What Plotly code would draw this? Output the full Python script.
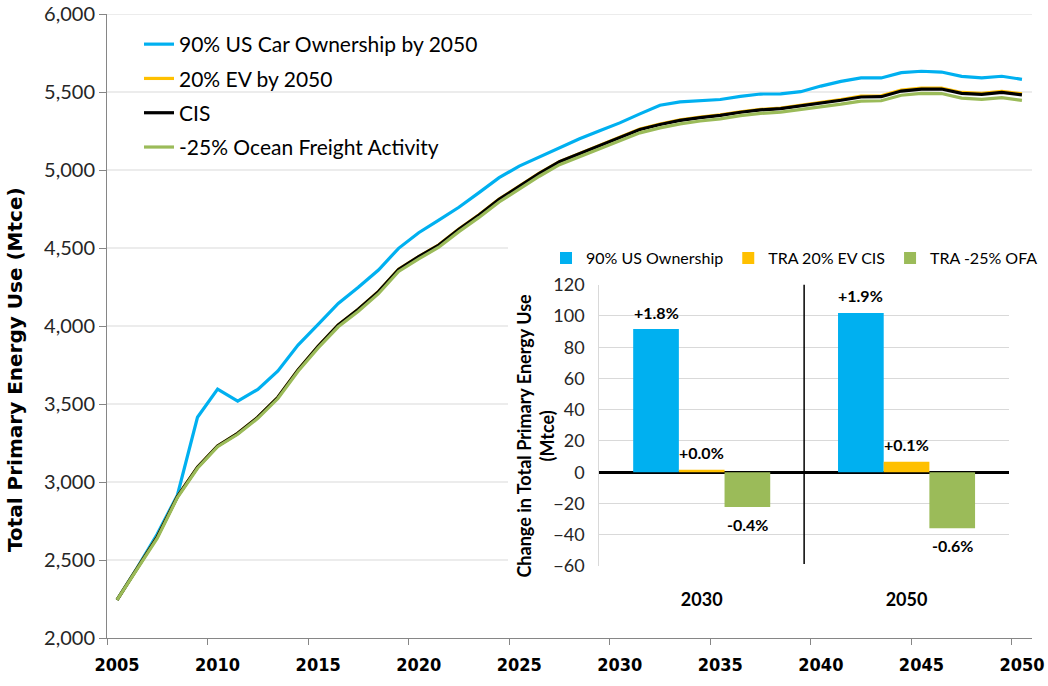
import plotly.graph_objects as go

# ---------------- data ----------------
years = list(range(2005, 2051))

car_ownership_90 = [2244, 2450, 2667, 2915, 3415, 3596, 3519, 3594, 3712, 3878,
                    4010, 4145, 4248, 4359, 4498, 4598, 4679, 4761, 4855, 4951,
                    5025, 5085, 5145, 5200, 5252, 5302, 5360, 5415, 5437, 5444,
                    5452, 5472, 5487, 5488, 5502, 5538, 5568, 5590, 5590, 5624,
                    5633, 5628, 5600, 5590, 5601, 5581]

ev_20 = [2244, 2447, 2649, 2906, 3094, 3231, 3312, 3415, 3543, 3718,
         3870, 4006, 4107, 4221, 4364, 4445, 4520, 4621, 4713, 4813,
         4896, 4980, 5054, 5106, 5161, 5212, 5262, 5295, 5321, 5339,
         5353, 5373, 5389, 5397, 5414, 5430, 5452, 5473, 5476, 5512,
         5525, 5525, 5497, 5491, 5504, 5488]

cis = [2244, 2447, 2649, 2906, 3094, 3231, 3312, 3415, 3543, 3718,
       3870, 4006, 4107, 4220, 4363, 4444, 4519, 4620, 4712, 4812,
       4895, 4979, 5053, 5105, 5160, 5210, 5260, 5292, 5318, 5336,
       5350, 5370, 5385, 5393, 5410, 5425, 5447, 5468, 5470, 5506,
       5519, 5519, 5491, 5485, 5497, 5481]

ocean_freight_25 = [2244, 2445, 2640, 2900, 3088, 3226, 3306, 3408, 3535, 3710,
                    3860, 3995, 4095, 4207, 4350, 4430, 4505, 4605, 4696, 4795,
                    4877, 4960, 5034, 5085, 5140, 5188, 5238, 5270, 5296, 5314,
                    5328, 5348, 5363, 5371, 5387, 5401, 5422, 5442, 5444, 5479,
                    5491, 5490, 5461, 5453, 5464, 5446]

line_names = ["90% US Car Ownership by 2050", "20% EV by 2050", "CIS",
              "-25% Ocean Freight Activity"]
line_colors = ["#00B0F0", "#FFC000", "#000000", "#9BBB59"]

x_tick_years = [2005, 2010, 2015, 2020, 2025, 2030, 2035, 2040, 2045, 2050]
y_ticks = [2000, 2500, 3000, 3500, 4000, 4500, 5000, 5500, 6000]
y_title = "Total Primary Energy Use (Mtce)"

# inset bar chart
bar_categories = ["2030", "2050"]
bar_names = ["90% US Ownership", "TRA 20% EV CIS", "TRA -25% OFA"]
bar_ownership = [91.6, 101.9]
bar_ev = [1.6, 6.7]
bar_ofa = [-22.3, -35.9]
bar_labels_ownership = ["+1.8%", "+1.9%"]
bar_labels_ev = ["+0.0%", "+0.1%"]
bar_labels_ofa = ["-0.4%", "-0.6%"]
bar_colors = ["#00B0F0", "#FFC000", "#9BBB59"]
inset_y_title = "Change in Total Primary Energy Use<br>(Mtce)"

# ---------------- figure ----------------
FONT = "Lato, 'Open Sans', Arial, sans-serif"
BOLD_NARROW = "'Liberation Sans Narrow', 'DejaVu Sans Condensed', Lato, Arial, sans-serif"

fig = go.Figure()

for vals, name, col in zip([car_ownership_90, ev_20, cis, ocean_freight_25],
                           line_names, line_colors):
    fig.add_trace(go.Scatter(
        x=years, y=vals, mode="lines", name=name,
        line=dict(color=col, width=3.2), legendgroup=name,
        xaxis="x", yaxis="y", legend="legend", hoverinfo="skip"))

bargap = 0.331
bar_x = list(range(len(bar_categories)))
bar_sets = [bar_ownership, bar_ev, bar_ofa]
label_sets = [bar_labels_ownership, bar_labels_ev, bar_labels_ofa]
for vals, name, col in zip(bar_sets, bar_names, bar_colors):
    fig.add_trace(go.Bar(
        x=bar_x, y=vals, name=name, marker=dict(color=col, line=dict(width=0)),
        xaxis="x2", yaxis="y2", legend="legend2", hoverinfo="skip"))

annotations = []
bw = (1 - bargap) / len(bar_sets)
for k, (vals, labels) in enumerate(zip(bar_sets, label_sets)):
    off = (k - (len(bar_sets) - 1) / 2) * bw
    for i, (v, t) in enumerate(zip(vals, labels)):
        annotations.append(dict(
            x=bar_x[i] + off, y=v, xref="x2", yref="y2", text=t,
            showarrow=False, yshift=17 if v >= 0 else -17,
            font=dict(family=FONT, size=16, color="#000000", weight="bold")))

# axis titles (placed like the original, not centred on the plot area)
annotations.append(dict(
    text=y_title, textangle=-90, xref="paper", yref="paper",
    x=-0.0995, y=0.431, xanchor="center", yanchor="middle", showarrow=False,
    font=dict(family="'DejaVu Sans', 'Open Sans', Arial, sans-serif", size=20,
              color="#000000", weight="bold")))
annotations.append(dict(
    text=inset_y_title, textangle=-90, xref="paper", yref="paper",
    x=0.4622, y=0.3237, xanchor="center", yanchor="middle", showarrow=False,
    align="center",
    font=dict(family=FONT, size=18, color="#000000", weight="bold")))

tick_minor = [y - 0.5 for y in x_tick_years]

# main-chart gridlines; the lower ones stop where the inset panel starts
INSET_LEFT = 0.4335   # x-domain fraction of the inset panel's left edge
INSET_TOP = 0.657     # y-domain fraction of the inset panel's top edge
shapes = []
for v in y_ticks[1:]:
    frac = (v - y_ticks[0]) / (y_ticks[-1] - y_ticks[0])
    shapes.append(dict(type="line", xref="x domain", yref="y",
                       x0=0, x1=(INSET_LEFT if frac < INSET_TOP else 1), y0=v, y1=v,
                       line=dict(color="#d9d9d9", width=1), layer="below"))
# divider between the two inset categories
shapes.append(dict(type="line", xref="x2", yref="y2 domain",
                   x0=0.5, x1=0.5, y0=0.007, y1=1.0,
                   line=dict(color="#000000", width=1.5)))

fig.update_layout(
    width=1048, height=686,
    margin=dict(l=107, r=16, t=14, b=48, autoexpand=False),
    paper_bgcolor="white", plot_bgcolor="white",
    font=dict(family=FONT, color="#262626"),
    barmode="group", bargap=bargap, bargroupgap=0,
    showlegend=True, hovermode=False,
    xaxis=dict(
        domain=[0, 1], range=[2004.5, 2050.5], automargin=False,
        tickmode="array", tickvals=x_tick_years,
        ticks="", showgrid=False, zeroline=False,
        showline=True, linecolor="#868686", linewidth=1,
        tickfont=dict(family=BOLD_NARROW, size=18, color="#000000", weight="bold"),
        ticklabelstandoff=10,
        minor=dict(tickmode="array", tickvals=tick_minor, ticks="outside",
                   ticklen=6, tickcolor="#868686", showgrid=False),
    ),
    yaxis=dict(
        domain=[0, 1], range=[y_ticks[0], y_ticks[-1]], automargin=False,
        tickmode="array", tickvals=y_ticks, tickformat=",",
        showgrid=False, zeroline=False,
        showline=True, linecolor="#868686", linewidth=1,
        ticks="outside", ticklen=7, tickcolor="#868686",
        tickfont=dict(family=FONT, size=20, color="#262626"),
    ),
    xaxis2=dict(
        anchor="y2", domain=[0.5322, 0.9751], range=[-0.5, 1.5], automargin=False,
        tickmode="array", tickvals=bar_x, ticktext=bar_categories,
        ticks="", showgrid=False, zeroline=False, showline=False,
        tickfont=dict(family=FONT, size=18, color="#000000", weight="bold"),
        ticklabelstandoff=21,
    ),
    yaxis2=dict(
        anchor="x2", domain=[0.1154, 0.5662], range=[-60, 120], dtick=20,
        automargin=False,
        showgrid=True, gridcolor="#d9d9d9", gridwidth=1,
        zeroline=True, zerolinecolor="#000000", zerolinewidth=3,
        showline=True, linecolor="#d9d9d9", linewidth=1,
        ticks="", tickfont=dict(family=FONT, size=18, color="#262626"),
        ticklabelstandoff=10,
    ),
    legend=dict(
        x=0.0346, y=0.984, xanchor="left", yanchor="top",
        bgcolor="rgba(0,0,0,0)", borderwidth=0,
        font=dict(family=FONT, size=21, color="#000000"),
        tracegroupgap=4, itemwidth=30,
    ),
    legend2=dict(
        orientation="h", x=0.4746, y=0.636, xanchor="left", yanchor="top",
        bgcolor="rgba(0,0,0,0)", borderwidth=0,
        font=dict(family=FONT, size=16, color="#000000"),
        itemwidth=30,
    ),
    annotations=annotations,
    shapes=shapes,
)

fig.write_html("out.html", config={"displayModeBar": False},
               post_script="document.body.style.margin='0';document.body.style.overflow='hidden';")
